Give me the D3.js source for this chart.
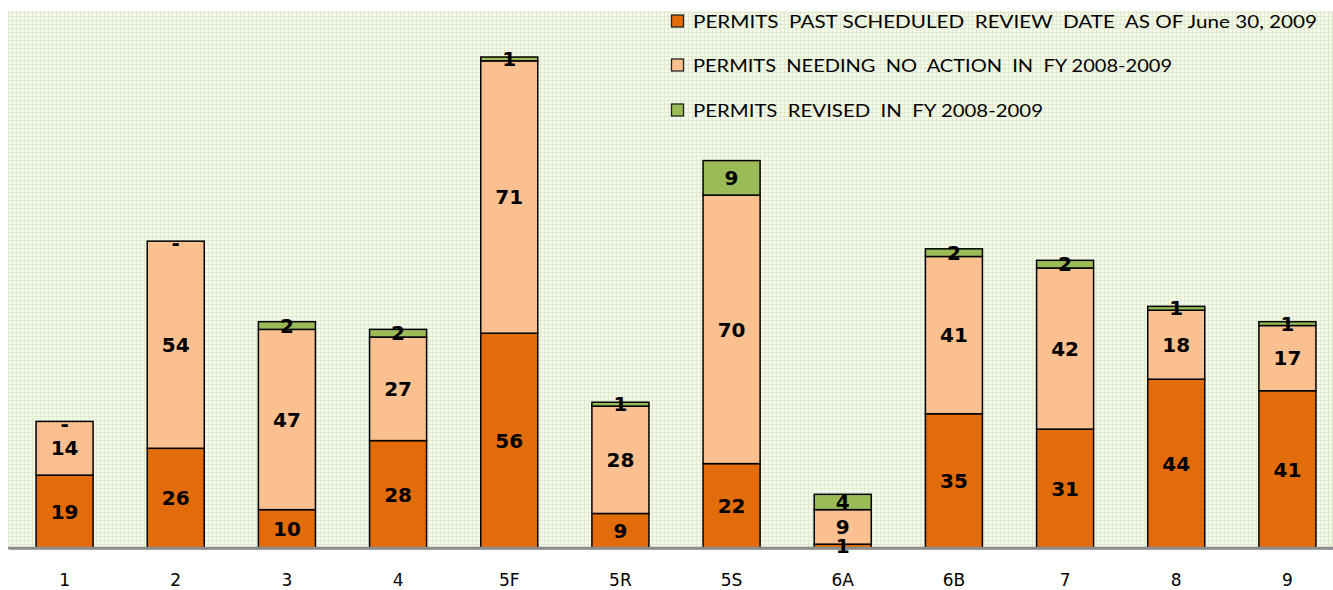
<!DOCTYPE html>
<html><head><meta charset="utf-8">
<script src="https://cdn.jsdelivr.net/npm/d3@7"></script>
<style>html,body{margin:0;padding:0;background:#fff;}svg{display:block;}</style>
</head><body>
<svg id="chart" width="1333" height="590"></svg>
<script>
const categories = ["1","2","3","4","5F","5R","5S","6A","6B","7","8","9"];
const pastReview = [19,26,10,28,56,9,22,1,35,31,44,41];
const noAction   = [14,54,47,27,71,28,70,9,41,42,18,17];
const revised    = [0,0,2,2,1,1,9,4,2,2,1,1];
const seriesNames = [
  "PERMITS  PAST SCHEDULED  REVIEW  DATE  AS OF June 30, 2009",
  "PERMITS  NEEDING  NO  ACTION  IN  FY 2008-2009",
  "PERMITS  REVISED  IN  FY 2008-2009"
];
const colors = ["#E36C0A","#FAC090","#9BBB59"];

const svg = d3.select("#chart");
const plot = {left: 8, top: 11, right: 1333, bottom: 548};

const defs = svg.append("defs");
const pat = defs.append("pattern").attr("id","grid").attr("patternUnits","userSpaceOnUse")
  .attr("width",4).attr("height",4);
pat.append("rect").attr("width",4).attr("height",4).attr("fill","#f5f9ed");
pat.append("rect").attr("x",0).attr("y",0).attr("width",1).attr("height",4).attr("fill","#e0eacd");
pat.append("rect").attr("x",0).attr("y",0).attr("width",4).attr("height",1).attr("fill","#e0eacd");

svg.append("rect").attr("x",plot.left).attr("y",plot.top)
  .attr("width",plot.right-plot.left).attr("height",plot.bottom-plot.top).attr("fill","url(#grid)");

const x = d3.scaleBand().domain(categories).range([9, 1343]).paddingInner(0.487).paddingOuter(0.2435);
const y = d3.scaleLinear().domain([0,140]).range([plot.bottom, plot.top]);

const rows = categories.map((c,i)=>({cat:c, s0:pastReview[i], s1:noAction[i], s2:revised[i]}));
const stack = d3.stack().keys(["s0","s1","s2"])(rows);

const g = svg.append("g");
stack.forEach((layer,li)=>{
  g.selectAll(null).data(layer).enter().append("rect")
    .attr("x", d=>x(d.data.cat))
    .attr("y", d=>y(d[1]))
    .attr("width", x.bandwidth())
    .attr("height", d=>y(d[0])-y(d[1]))
    .attr("fill", colors[li])
    .attr("stroke","#000").attr("stroke-width",1.5);
});

// axis
const axis = svg.append("g").attr("transform",`translate(0,${plot.bottom})`)
  .call(d3.axisBottom(x).tickSize(0).tickPadding(26));
axis.select(".domain").attr("stroke","#8c8c8c").attr("stroke-width",2.5);
axis.selectAll("text").attr("font-family","DejaVu Sans, Verdana, sans-serif").attr("font-size",17).attr("fill","#000");
svg.append("line").attr("x1",plot.left).attr("x2",plot.right).attr("y1",plot.bottom).attr("y2",plot.bottom)
  .attr("stroke","#8c8c8c").attr("stroke-width",2.5);

// labels
const lab = svg.append("g").attr("font-family","DejaVu Sans, Verdana, sans-serif")
  .attr("font-weight","bold").attr("font-size",20).attr("fill","#000").attr("text-anchor","middle");
stack.forEach((layer,li)=>{
  lab.selectAll(null).data(layer).enter().append("text")
    .attr("x", d=>x(d.data.cat)+x.bandwidth()/2)
    .attr("y", d=> (d[1]-d[0])===0 ? y(d[1])+2 : (y(d[0])+y(d[1]))/2)
    .attr("dy","0.36em")
    .text(d=> (d[1]-d[0])===0 ? "-" : (d[1]-d[0]));
});

// legend
const leg = svg.append("g");
const legY = [21, 65, 110];
const legLen = [624, 479, 350];
seriesNames.forEach((n,i)=>{
  leg.append("rect").attr("x",671.5).attr("y",legY[i]-6).attr("width",12).attr("height",12)
    .attr("fill",colors[i]).attr("stroke","#222").attr("stroke-width",1.3);
  leg.append("text").attr("x",693).attr("y",legY[i]+7)
    .attr("font-family","Lato, 'Open Sans', sans-serif").attr("font-size",17).attr("fill","#000")
    .attr("textLength",legLen[i]).attr("lengthAdjust","spacingAndGlyphs")
    .style("white-space","pre").text(n);
});
</script>
</body></html>
